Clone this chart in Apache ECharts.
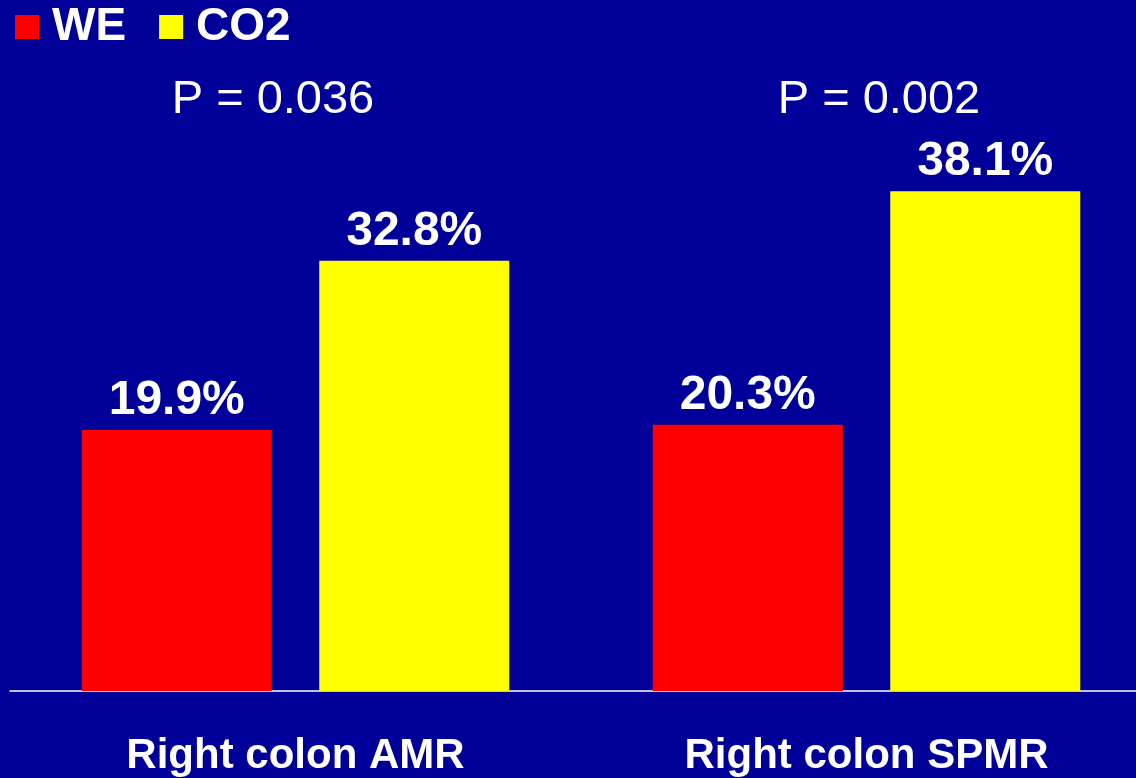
<!DOCTYPE html>
<html><head><meta charset="utf-8">
<script src="https://cdn.jsdelivr.net/npm/echarts@6/dist/echarts.min.js"></script>
<style>html,body{margin:0;padding:0;background:#000099;}#c{width:1136px;height:778px;}</style>
</head><body><div id="c"></div>
<script>
const categories = ['Right colon AMR', 'Right colon SPMR'];
const weValues = [19.9, 20.3];
const co2Values = [32.8, 38.1];
const pLabels = ['P = 0.036', 'P = 0.002'];

const chart = echarts.init(document.getElementById('c'));
const font = '"Liberation Sans", Arial, sans-serif';
chart.setOption({
  backgroundColor: '#000099',
  animation: false,
  textStyle: { fontFamily: font },
  title: [
    { text: pLabels[0], left: 268, top: 72, textAlign: 'center',
      textStyle: { color: '#fff', fontSize: 47, fontWeight: 'normal', fontFamily: font } },
    { text: pLabels[1], left: 874, top: 72, textAlign: 'center',
      textStyle: { color: '#fff', fontSize: 47, fontWeight: 'normal', fontFamily: font } }
  ],
  legend: {
    left: 15, top: 4, padding: 0, itemWidth: 24, itemHeight: 24, itemGap: 33,
    icon: 'rect',
    textStyle: { color: '#fff', fontSize: 46, fontWeight: 'bold', fontFamily: font, padding: [0, 0, 0, 8] },
    data: ['WE', 'CO2']
  },
  grid: { left: 10, width: 1142, top: 35, height: 656, outerBoundsMode: 'none', containLabel: false },
  xAxis: {
    type: 'category', data: categories,
    axisLine: { lineStyle: { color: '#fff', width: 1.5 } },
    axisTick: { show: false },
    axisLabel: { color: '#fff', fontSize: 42, fontWeight: 'bold', margin: 44, fontFamily: font }
  },
  yAxis: { type: 'value', min: 0, max: 50, show: false, splitLine: { show: false } },
  series: [
    { name: 'WE', type: 'bar', data: weValues, barWidth: 190, barGap: '25%',
      itemStyle: { color: '#ff0000' },
      label: { show: true, position: 'top', distance: 5, formatter: '{c}%', color: '#fff', fontSize: 48, fontWeight: 'bold', fontFamily: font } },
    { name: 'CO2', type: 'bar', data: co2Values, barWidth: 190,
      itemStyle: { color: '#ffff00' },
      label: { show: true, position: 'top', distance: 5, formatter: '{c}%', color: '#fff', fontSize: 48, fontWeight: 'bold', fontFamily: font } }
  ]
});
</script></body></html>
